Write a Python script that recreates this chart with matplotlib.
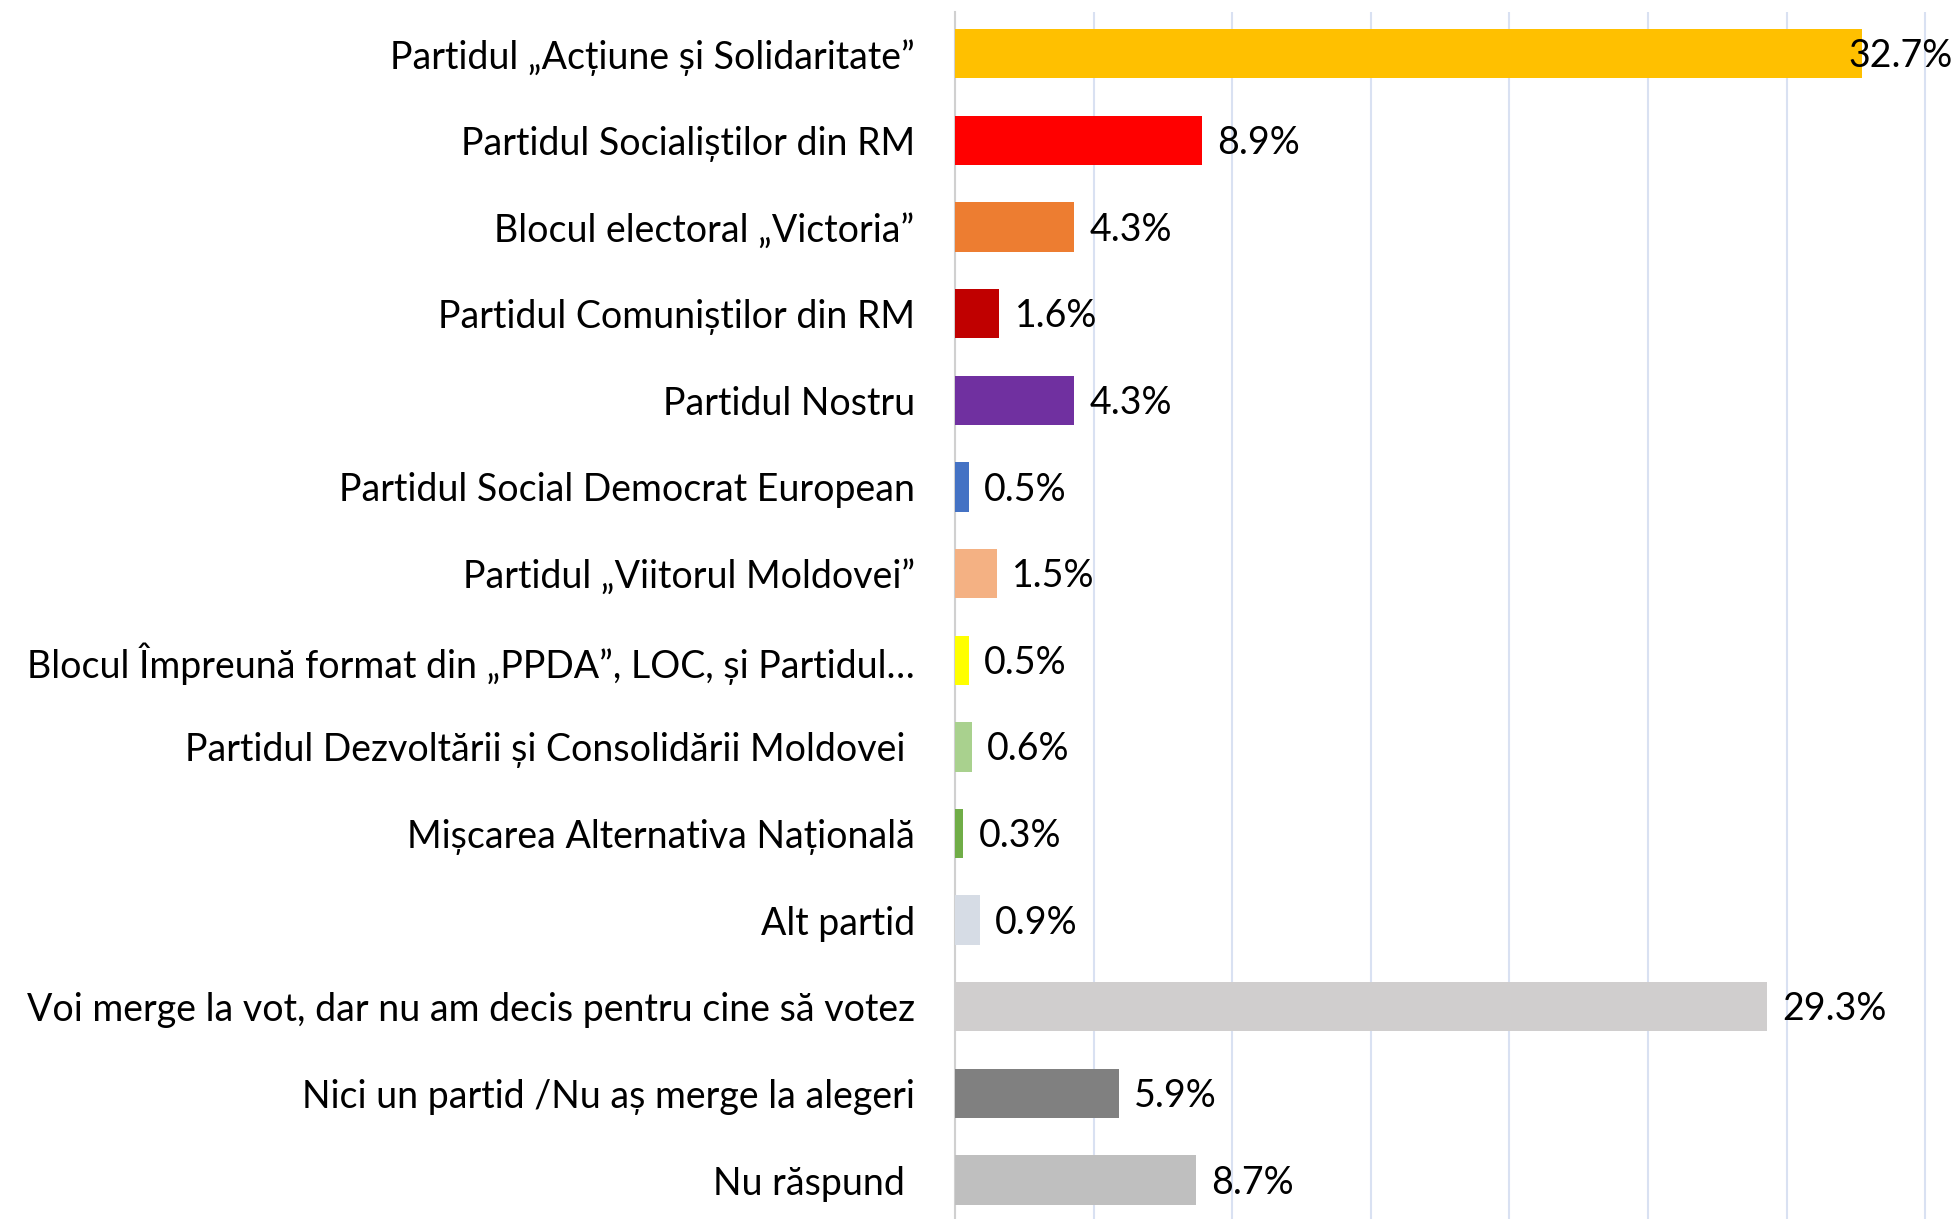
import matplotlib.pyplot as plt

plt.rcParams['font.family'] = ['Lato', 'DejaVu Sans']

partide = [
    'Partidul „Acțiune și Solidaritate”',
    'Partidul Socialiștilor din RM',
    'Blocul electoral „Victoria”',
    'Partidul Comuniștilor din RM',
    'Partidul Nostru',
    'Partidul Social Democrat European',
    'Partidul „Viitorul Moldovei”',
    'Blocul Împreună format din „PPDA”, LOC, și Partidul…',
    'Partidul Dezvoltării și Consolidării Moldovei ',
    'Mișcarea Alternativa Națională',
    'Alt partid',
    'Voi merge la vot, dar nu am decis pentru cine să votez',
    'Nici un partid /Nu aș merge la alegeri',
    'Nu răspund ',
]
procente = [32.7, 8.9, 4.3, 1.6, 4.3, 0.5, 1.5, 0.5, 0.6, 0.3, 0.9, 29.3, 5.9, 8.7]
culori = ['#FFC000', '#FF0000', '#ED7D31', '#C00000', '#7030A0', '#4472C4',
          '#F4B183', '#FFFF00', '#A9D18E', '#70AD47', '#D6DCE5', '#D0CECE',
          '#808080', '#BFBFBF']

fig = plt.figure(figsize=(19.53, 12.19), dpi=100)
ax = fig.add_axes([0.489, 0.0, 0.511, 0.99])

y = range(len(partide))
bare = ax.barh(y, procente, height=0.57, color=culori, zorder=3)

ax.set_xlim(0, 36)
ax.set_ylim(len(partide) - 0.55, -0.48)
ax.set_xticks(range(0, 36, 5))
ax.xaxis.grid(True, color='#D9E1F2', linewidth=1.5, zorder=0)
ax.tick_params(axis='x', length=0, labelbottom=False)
ax.tick_params(axis='y', length=0, pad=29)
ax.set_yticks(list(y))
ax.set_yticklabels(partide, fontsize=27)

for s in ['top', 'right', 'bottom']:
    ax.spines[s].set_visible(False)
ax.spines['left'].set_color('#D0D0D0')
ax.spines['left'].set_linewidth(1.5)

# etichete cu valori
for i, v in enumerate(procente):
    eticheta = f'{v:.1f}%'
    if v > 32:
        ax.text(36, i + 0.03, eticheta, ha='right', va='center', fontsize=27, zorder=4)
    else:
        ax.annotate(eticheta, (v, i + 0.03), xytext=(11, 0), textcoords='offset points',
                    ha='left', va='center', fontsize=27, zorder=4)

fig.savefig('out.png', dpi=100)
